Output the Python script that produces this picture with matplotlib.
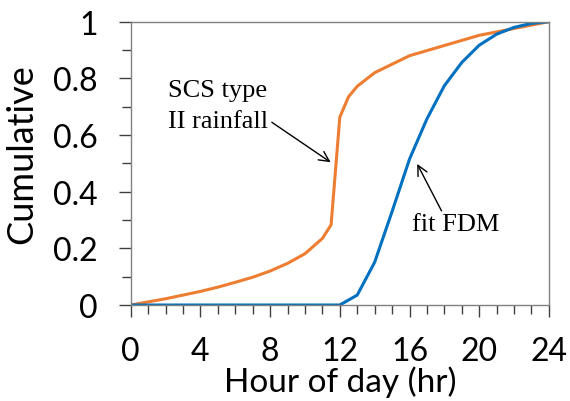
import matplotlib
matplotlib.use("Agg")
import matplotlib.pyplot as plt
from matplotlib.ticker import MultipleLocator

# SCS type II cumulative rainfall
hora_scs = [0, 1, 2, 3, 4, 5, 6, 7, 8, 9, 10, 11, 11.5, 12, 12.5, 13,
            14, 15, 16, 17, 18, 19, 20, 21, 22, 23, 24]
cum_scs = [0, 0.011, 0.022, 0.035, 0.048, 0.063, 0.080, 0.098, 0.120, 0.147,
           0.181, 0.235, 0.283, 0.663, 0.735, 0.772, 0.820, 0.850, 0.880,
           0.898, 0.916, 0.934, 0.952, 0.964, 0.976, 0.988, 1.0]

# fit FDM
hora_fdm = list(range(25))
cum_fdm = [0, 0, 0, 0, 0, 0, 0, 0, 0, 0, 0, 0, 0, 0.035, 0.151, 0.33,
           0.515, 0.657, 0.774, 0.856, 0.917, 0.956, 0.98, 0.994, 1.0]

plt.rcParams['font.family'] = 'Lato'

fig = plt.figure(figsize=(5.7, 4.02), dpi=100)
ax = fig.add_axes([0.2293, 0.2388, 0.7337, 0.7047])

ax.plot(hora_scs, cum_scs, color='#ED7D31', lw=2.2)
ax.plot(hora_fdm, cum_fdm, color='#0070C0', lw=2.2)

ax.set_xlim(0, 24)
ax.set_ylim(0, 1)
ax.xaxis.set_major_locator(MultipleLocator(4))
ax.xaxis.set_minor_locator(MultipleLocator(1))
ax.yaxis.set_major_locator(MultipleLocator(0.2))
ax.yaxis.set_minor_locator(MultipleLocator(0.1))
ax.yaxis.set_major_formatter(plt.FuncFormatter(lambda v, p: f"{v:g}"))

for s in ax.spines.values():
    s.set_color('#808080')
    s.set_linewidth(1)

ax.tick_params(axis='both', which='major', direction='out', length=8.6,
               width=1, color='#404040', labelsize=23)
ax.tick_params(axis='both', which='minor', direction='out', length=6.5,
               width=1, color='#404040')
ax.tick_params(axis='x', which='major', pad=14)
ax.tick_params(axis='y', which='major', pad=15)

ax.set_xlabel("Hour of day (hr)", fontsize=24, labelpad=-1)
ax.set_ylabel("Cumulative", fontsize=26, va='center')
ax.yaxis.set_label_coords(-0.26, 0.535)

serif = dict(fontsize=19, family='Liberation Serif', va='baseline', ha='left')
ax.text(2.14, 0.739, "SCS type", **serif)
ax.text(2.14, 0.628, "II rainfall", **serif)
ax.annotate("", xy=(11.47, 0.504), xytext=(8.1, 0.645),
            arrowprops=dict(arrowstyle='->', color='black', lw=1,
                            shrinkA=0, shrinkB=0, mutation_scale=18))
ax.annotate("", xy=(16.44, 0.498), xytext=(17.84, 0.332),
            arrowprops=dict(arrowstyle='->', color='black', lw=1,
                            shrinkA=0, shrinkB=0, mutation_scale=18))
ax.text(16.12, 0.266, "fit FDM", **serif)

fig.savefig("out.png", dpi=100)
